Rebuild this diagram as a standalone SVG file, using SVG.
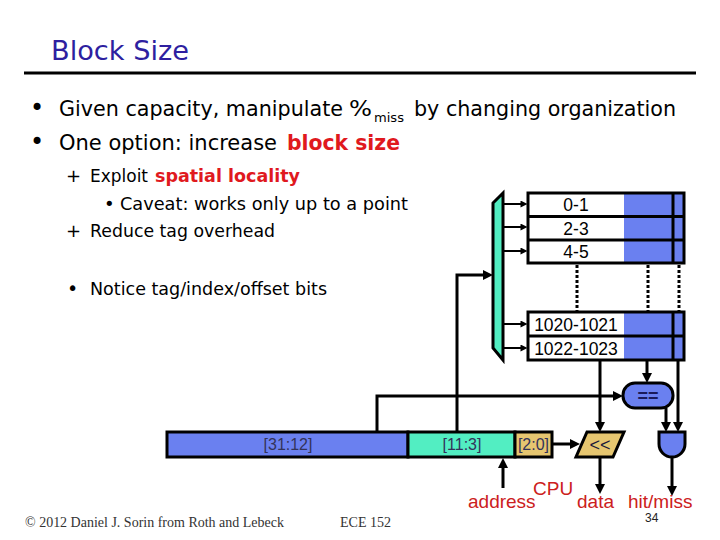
<svg xmlns="http://www.w3.org/2000/svg" width="720" height="540" viewBox="0 0 720 540">
<style>
.body{font-family:"DejaVu Sans","Liberation Sans",sans-serif;fill:#000}
.sans{font-family:"Liberation Sans",Arial,sans-serif}
.red{fill:#E0191E;font-weight:bold}
.lbl{font-family:"Liberation Sans",Arial,sans-serif;font-size:19px;fill:#CC2020}
.fld{font-family:"Liberation Sans",Arial,sans-serif;font-size:16px;fill:#33335A}
.row{font-family:"Liberation Sans",Arial,sans-serif;font-size:17.5px;fill:#000;text-anchor:middle}
.box{stroke:#000;stroke-width:3;stroke-linejoin:miter}
.blue{fill:#6A80F0}
.teal{fill:#52EEC2}
.yel{fill:#E6C670}
.wire{fill:none;stroke:#000;stroke-width:3}
.thin{fill:none;stroke:#000;stroke-width:2}
.dot{fill:none;stroke:#000;stroke-width:3;stroke-dasharray:3 2}
</style>
<defs>
<marker id="arr" viewBox="0 0 10 10" refX="6" refY="5" markerWidth="10" markerHeight="10" markerUnits="userSpaceOnUse" orient="auto"><path d="M0,0 L10,5 L0,10 z" fill="#000"/></marker>
<marker id="arrs" viewBox="0 0 8 8" refX="4" refY="4" markerWidth="8" markerHeight="7" markerUnits="userSpaceOnUse" orient="auto"><path d="M0,0 L8,4 L0,8 z" fill="#000"/></marker>
</defs>
<rect width="720" height="540" fill="#fff"/>

<g id="title">
<text x="51" y="60" class="body" font-size="26" fill="#2E1FA0" style="fill:#2E1FA0" textLength="138" lengthAdjust="spacingAndGlyphs">Block Size</text>
<rect x="24" y="71.5" width="672" height="3" fill="#000"/>
</g>

<g id="bullets" class="body">
<text x="30" y="116" font-size="24">•</text>
<text x="59" y="116" font-size="21" textLength="284" lengthAdjust="spacingAndGlyphs">Given capacity, manipulate</text>
<text x="349" y="116" font-size="21" textLength="23" lengthAdjust="spacingAndGlyphs">%</text>
<text x="374" y="122" font-size="13" textLength="30" lengthAdjust="spacingAndGlyphs">miss</text>
<text x="414" y="116" font-size="21" textLength="262" lengthAdjust="spacingAndGlyphs">by changing organization</text>
<text x="30" y="150" font-size="24">•</text>
<text x="59" y="150" font-size="21" textLength="218" lengthAdjust="spacingAndGlyphs">One option: increase</text>
<text x="287" y="150" font-size="21" class="red" textLength="113" lengthAdjust="spacingAndGlyphs">block size</text>
<text x="66" y="182" font-size="18">+</text>
<text x="90" y="182" font-size="18" textLength="58" lengthAdjust="spacingAndGlyphs">Exploit</text>
<text x="155" y="182" font-size="18" class="red" textLength="145" lengthAdjust="spacingAndGlyphs">spatial locality</text>
<text x="104" y="210" font-size="18">•</text>
<text x="120" y="210" font-size="18" textLength="288" lengthAdjust="spacingAndGlyphs">Caveat: works only up to a point</text>
<text x="66" y="237" font-size="18">+</text>
<text x="90" y="237" font-size="18" textLength="185" lengthAdjust="spacingAndGlyphs">Reduce tag overhead</text>
<text x="67" y="295" font-size="19">•</text>
<text x="90" y="295" font-size="18" textLength="237" lengthAdjust="spacingAndGlyphs">Notice tag/index/offset bits</text>
</g>

<g id="connectors">
<polyline class="wire" points="457,432 457,275 489,275" marker-end="url(#arr)"/>
<polyline class="wire" points="377,432 377,396 619,396" marker-end="url(#arr)"/>
<line class="wire" x1="600" y1="360" x2="600" y2="428" marker-end="url(#arr)"/>
<line class="wire" x1="647" y1="360" x2="647" y2="379" marker-end="url(#arr)"/>
<line class="wire" x1="678" y1="360" x2="678" y2="428" marker-end="url(#arr)"/>
<line class="wire" x1="666" y1="408" x2="666" y2="428" marker-end="url(#arr)"/>
<line class="wire" x1="552" y1="444" x2="576" y2="444" marker-end="url(#arr)"/>
<line class="wire" x1="600" y1="457" x2="600" y2="490" marker-end="url(#arr)"/>
<line class="wire" x1="672" y1="457" x2="672" y2="492" marker-end="url(#arr)"/>
<line class="wire" x1="503" y1="488" x2="503" y2="462" marker-end="url(#arr)"/>
<line class="thin" x1="503" y1="204" x2="524" y2="204" marker-end="url(#arrs)"/>
<line class="thin" x1="503" y1="227" x2="524" y2="227" marker-end="url(#arrs)"/>
<line class="thin" x1="503" y1="251" x2="524" y2="251" marker-end="url(#arrs)"/>
<line class="thin" x1="503" y1="324" x2="524" y2="324" marker-end="url(#arrs)"/>
<line class="thin" x1="503" y1="348" x2="524" y2="348" marker-end="url(#arrs)"/>
<line class="dot" x1="577" y1="265" x2="577" y2="311"/>
<line class="dot" x1="648" y1="265" x2="648" y2="311"/>
<line class="dot" x1="679" y1="265" x2="679" y2="311"/>
</g>

<g id="decoder">
<polygon class="box teal" points="493,203 503,193 503,360 493,348"/>
</g>

<g id="cache-top">
<rect x="528" y="193" width="96" height="70" fill="#fff"/>
<rect x="624" y="193" width="60" height="70" class="blue"/>
<line x1="528" y1="216.5" x2="684" y2="216.5" stroke="#000" stroke-width="3"/>
<line x1="528" y1="240" x2="684" y2="240" stroke="#000" stroke-width="3"/>
<line x1="673" y1="193" x2="673" y2="263" stroke="#000" stroke-width="3"/>
<rect x="528" y="193" width="156" height="70" fill="none" stroke="#000" stroke-width="3"/>
<text class="row" x="576" y="211">0-1</text>
<text class="row" x="576" y="234.5">2-3</text>
<text class="row" x="576" y="258">4-5</text>
</g>

<g id="cache-bottom">
<rect x="528" y="312" width="96" height="48" fill="#fff"/>
<rect x="624" y="312" width="60" height="48" class="blue"/>
<line x1="528" y1="336" x2="684" y2="336" stroke="#000" stroke-width="3"/>
<line x1="673" y1="312" x2="673" y2="360" stroke="#000" stroke-width="3"/>
<rect x="528" y="312" width="156" height="48" fill="none" stroke="#000" stroke-width="3"/>
<text class="row" x="576" y="331">1020-1021</text>
<text class="row" x="576" y="355">1022-1023</text>
</g>

<g id="compare">
<rect x="623" y="383" width="50" height="25" rx="12" ry="12" class="box blue"/>
<text x="648" y="402" class="sans" font-size="18" font-weight="bold" fill="#1A1A5A" text-anchor="middle">==</text>
</g>

<g id="address">
<rect x="167" y="432" width="241" height="25" class="box blue"/>
<rect x="408" y="432" width="107" height="25" class="box teal"/>
<rect x="515" y="432" width="37" height="25" class="box yel"/>
<text class="fld" x="288" y="450" text-anchor="middle">[31:12]</text>
<text class="fld" x="462" y="450" text-anchor="middle">[11:3]</text>
<text class="fld" x="533.5" y="450" text-anchor="middle">[2:0]</text>
</g>

<g id="shifter">
<polygon class="box yel" points="587,432 624,432 613,457 576,457"/>
<text x="600" y="451" class="sans" font-size="18" fill="#1A1A3A" text-anchor="middle">&lt;&lt;</text>
</g>

<g id="and-gate">
<path class="box blue" d="M659,432 H685 V444 A13,13 0 0 1 659,444 Z"/>
</g>

<g id="labels">
<text class="lbl" x="468" y="508">address</text>
<text class="lbl" x="533" y="495">CPU</text>
<text class="lbl" x="577" y="508">data</text>
<text class="lbl" x="628" y="508">hit/miss</text>
<text x="645" y="522" class="sans" font-size="12" fill="#222">34</text>
</g>

<g id="footer">
<text x="25" y="527" font-family="'Liberation Serif','Times New Roman',serif" font-size="14" fill="#333" textLength="259" lengthAdjust="spacingAndGlyphs">© 2012 Daniel J. Sorin from Roth and Lebeck</text>
<text x="340" y="527" font-family="'Liberation Serif','Times New Roman',serif" font-size="14" fill="#333" textLength="51" lengthAdjust="spacingAndGlyphs">ECE 152</text>
</g>
</svg>
